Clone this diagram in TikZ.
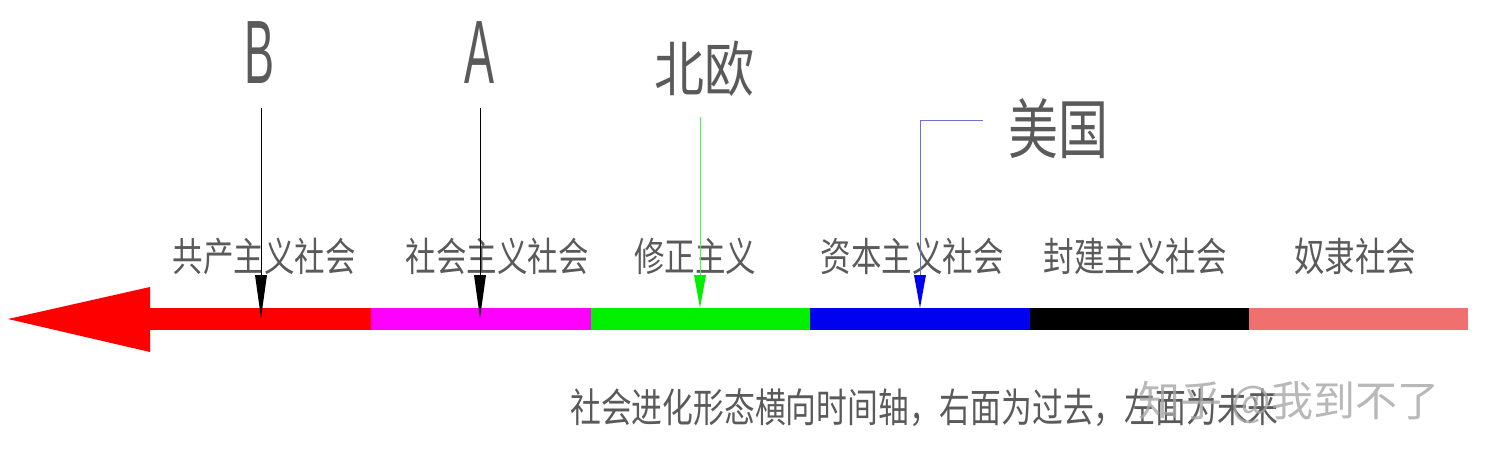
\documentclass[tikz,border=0pt]{standalone}
\usepackage{fontspec}
\newfontfamily\cjk{Noto Sans CJK SC}
\setsansfont{Liberation Sans}
\definecolor{txt}{HTML}{5A5A5A}
\definecolor{salmon}{HTML}{F07070}
\definecolor{pmagenta}{HTML}{FF00FF}
\definecolor{pred}{HTML}{FF0000}
\definecolor{lgreen}{HTML}{00F000}
\definecolor{pblue}{HTML}{0000F0}
\definecolor{lblue}{HTML}{7070D0}
\tikzset{
  era/.style={font=\cjk\fontsize{30.5}{30.5}\selectfont, text=txt, inner sep=0pt},
  bigletter/.style={font=\sffamily\fontsize{90}{90}\selectfont, text=txt, inner sep=0pt},
  toplabel/.style={font=\cjk\fontsize{50}{50}\selectfont, text=txt, inner sep=0pt},
  note/.style={font=\cjk\fontsize{30.8}{30.8}\selectfont, text=txt, inner sep=0pt},
  wmark/.style={font=\cjk\fontsize{42}{42}\selectfont, text=black!35, inner sep=0pt, opacity=0.8},
}
\begin{document}
\begin{tikzpicture}[x=1pt,y=-1pt]
\useasboundingbox (0,0) rectangle (1489,463);
% bar segments
\fill[pred] (150,308) rectangle (371,330);
\fill[pmagenta] (371,308) rectangle (591,330);
\fill[lgreen] (591,308) rectangle (810,330);
\fill[pblue] (810,308) rectangle (1030,330);
\fill[black] (1030,308) rectangle (1249,330);
\fill[salmon] (1249,308) rectangle (1468,330);
\fill[pred] (150,287) -- (8,319) -- (150,352) -- cycle;
% era labels
\node[era] (e1) at (264,256) {\scalebox{1}[1.3]{共产主义社会}};
\node[era] (e2) at (497,256) {\scalebox{1}[1.3]{社会主义社会}};
\node[era] (e3) at (695,256) {\scalebox{1}[1.3]{修正主义}};
\node[era] (e4) at (912,256) {\scalebox{1}[1.3]{资本主义社会}};
\node[era] (e5) at (1135,256) {\scalebox{1}[1.3]{封建主义社会}};
\node[era] (e6) at (1355,256) {\scalebox{1}[1.3]{奴隶社会}};
% top labels
\node[bigletter] (B) at (260,53) {\scalebox{0.5}[1]{B}};
\node[bigletter] (A) at (480,53) {\scalebox{0.5}[1]{A}};
\node[toplabel] (NE) at (704,69) {\scalebox{1}[1.2]{北欧}};
\node[toplabel] (US) at (1058,129) {\scalebox{1}[1.3]{美国}};
% pointer coordinates
\coordinate (bs) at (261,108); \coordinate (bt) at (261,275); \coordinate (bp) at (261,318);
\coordinate (as) at (480,108); \coordinate (at2) at (480,275); \coordinate (ap) at (480,318);
\coordinate (ns) at (700,117); \coordinate (nt) at (700,275); \coordinate (np) at (700,308);
\coordinate (us) at (983,120); \coordinate (uc) at (920,120); \coordinate (ut) at (920,275); \coordinate (up) at (920,308);
% pointers
\draw[black, line width=0.8pt] (bs) -- (bt);
\fill[black] ([xshift=-6pt]bt) -- ([xshift=6pt]bt) -- (bp) -- cycle;
\draw[black, line width=0.8pt] (as) -- (at2);
\fill[black] ([xshift=-6pt]at2) -- ([xshift=6pt]at2) -- (ap) -- cycle;
\draw[lgreen!70, line width=0.8pt] (ns) -- (nt);
\fill[lgreen] ([xshift=-6pt]nt) -- ([xshift=6pt]nt) -- (np) -- cycle;
\draw[lblue, line width=0.8pt] (us) -- (uc) -- (ut);
\fill[pblue] ([xshift=-6pt]ut) -- ([xshift=6pt]ut) -- (up) -- cycle;
% caption
\node[note, anchor=west] (cap) at (570,408) {\scalebox{1}[1.3]{社会进化形态横向时间轴，右面为过去，左面为未来}};
\node[wmark, anchor=west] (wm) at (1138,402) {知乎 @我到不了};
\end{tikzpicture}
\end{document}
